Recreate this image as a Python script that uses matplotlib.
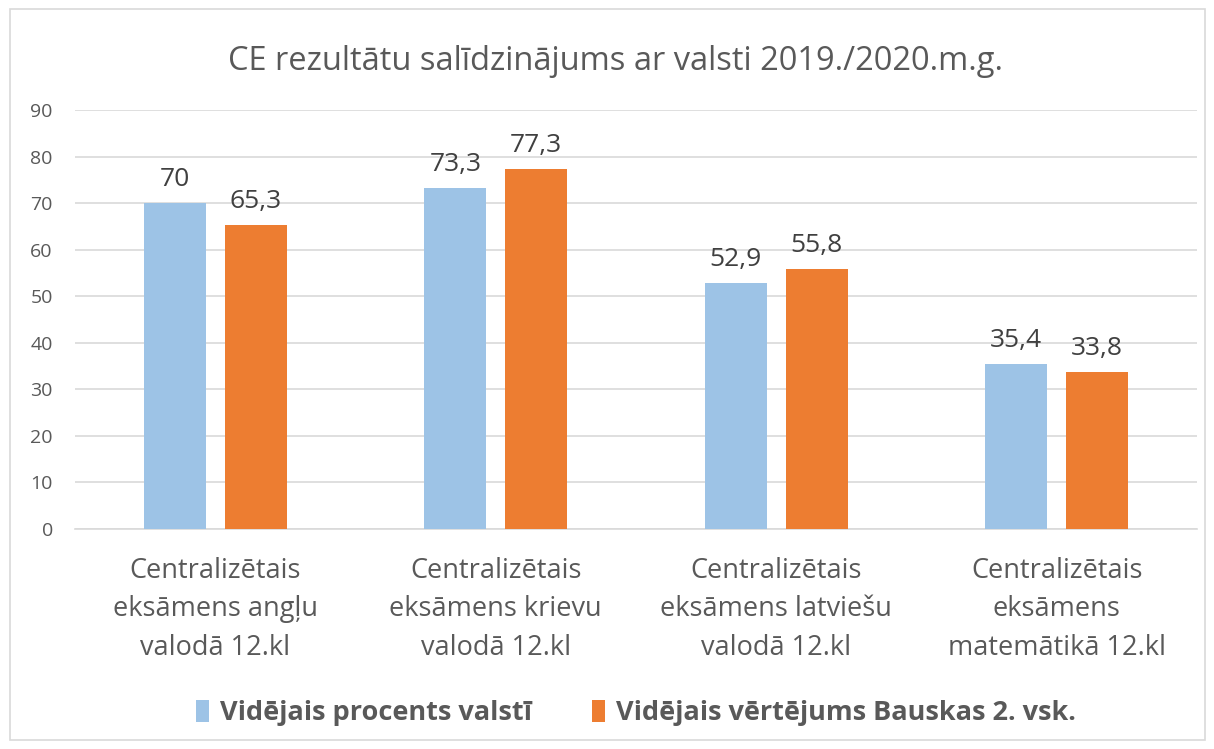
import matplotlib.pyplot as plt
import numpy as np
from matplotlib.patches import Rectangle

plt.rcParams['font.family'] = ['Open Sans', 'DejaVu Sans']

categories = [
    'Centralizētais\neksāmens angļu\nvalodā 12.kl',
    'Centralizētais\neksāmens krievu\nvalodā 12.kl',
    'Centralizētais\neksāmens latviešu\nvalodā 12.kl',
    'Centralizētais\neksāmens\nmatemātikā 12.kl',
]
valsts = [70, 73.3, 52.9, 35.4]
bauska = [65.3, 77.3, 55.8, 33.8]
series_names = ['Vidējais procents valstī', 'Vidējais vērtējums Bauskas 2. vsk.']
title = 'CE rezultātu salīdzinājums ar valsti 2019./2020.m.g.'

txt = '#595959'
blue = '#9DC3E6'
orange = '#ED7D31'

fig = plt.figure(figsize=(12.14, 7.49), dpi=100)
ax = fig.add_axes([75/1214, 1-529/749, 1122/1214, (529-110)/749])

x = np.arange(len(categories))
w = 0.222
off = 0.144
b1 = ax.bar(x - off, valsts, w, color=blue, label=series_names[0], zorder=3)
b2 = ax.bar(x + off, bauska, w, color=orange, label=series_names[1], zorder=3)

def fmt(v):
    s = ('%g' % v).replace('.', ',')
    return s

for bars, vals in ((b1, valsts), (b2, bauska)):
    for r, v in zip(bars, vals):
        ax.annotate(fmt(v), (r.get_x() + r.get_width()/2, v), xytext=(0, 8),
                    textcoords='offset points', ha='center', va='bottom',
                    fontsize=19, color='#404040')

ax.set_xlim(-0.5, 3.5)
ax.set_ylim(0, 90)
ax.set_yticks(range(0, 91, 10))
ax.yaxis.grid(True, color='#D9D9D9', linewidth=1.2, zorder=0)
ax.set_axisbelow(True)
for s in ['top', 'right', 'left']:
    ax.spines[s].set_visible(False)
ax.spines['bottom'].set_color('#D9D9D9')
ax.spines['bottom'].set_linewidth(1.2)
ax.tick_params(axis='y', length=0, labelsize=14, labelcolor=txt, pad=16)
ax.tick_params(axis='x', length=0, labelsize=19.5, labelcolor=txt, pad=20)
ax.set_xticks(x)
ax.set_xticklabels(categories, linespacing=1.5)

fig.text(616/1214, 1-62/749, title, ha='center', va='center', fontsize=23.5, color=txt)

leg = fig.legend(loc='center', bbox_to_anchor=(636/1214, 1-713/749), ncol=2, frameon=False,
                 prop={'weight': 'bold', 'size': 19.5}, handlelength=0.5, handleheight=0.9,
                 columnspacing=2.2, handletextpad=0.4)
for t in leg.get_texts():
    t.set_color(txt)

fig.patches.append(Rectangle((10/1214, 9/749), 1195/1214, 731/749, transform=fig.transFigure,
                             fill=False, edgecolor='#D9D9D9', linewidth=1.2))

fig.savefig('out.png', dpi=100)
